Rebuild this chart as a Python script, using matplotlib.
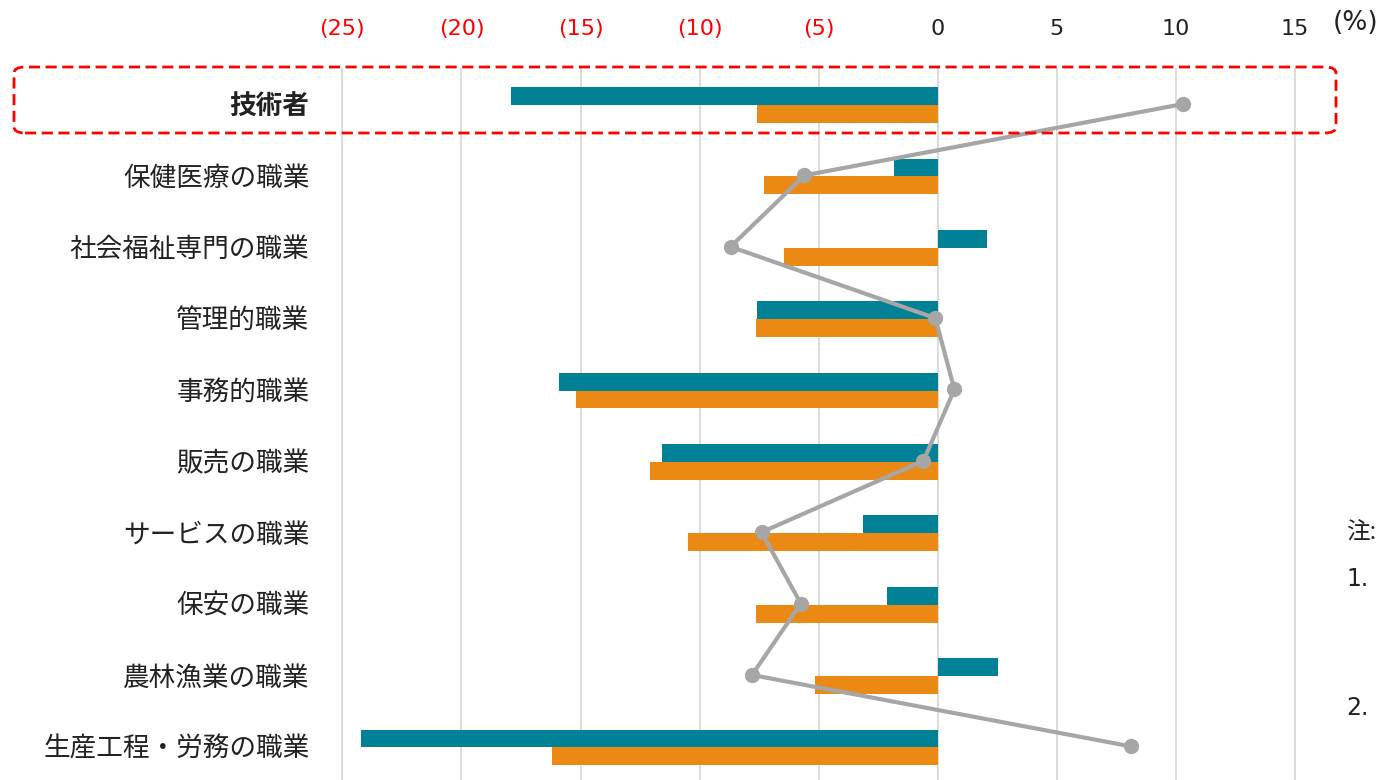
import matplotlib.pyplot as plt
from matplotlib.patches import FancyBboxPatch
from matplotlib.ticker import FuncFormatter
import numpy as np

# data (percent)
occupations = ['技術者', '保健医療の職業', '社会福祉専門の職業', '管理的職業', '事務的職業',
               '販売の職業', 'サービスの職業', '保安の職業', '農林漁業の職業', '生産工程・労務の職業']
teal_vals = [-17.9, -1.85, 2.05, -7.6, -15.9, -11.6, -3.15, -2.15, 2.55, -24.2]
orange_vals = [-7.6, -7.3, -6.45, -7.65, -15.2, -12.1, -10.5, -7.65, -5.15, -16.2]
line_vals = [10.3, -5.6, -8.7, -0.1, 0.7, -0.6, -7.4, -5.75, -7.8, 8.1]
x_ticks = [-25, -20, -15, -10, -5, 0, 5, 10, 15]

TEAL = '#008196'
ORANGE = '#EA8A15'
GRAY = '#A6A6A6'
CJK = ['Noto Sans CJK JP', 'DejaVu Sans']

fig = plt.figure(figsize=(13.84, 7.8), dpi=100)
ax = fig.add_axes([0.2457, -0.0026, 0.7037, 0.915])

y = np.arange(len(occupations))
bh = 0.25
ax.barh(y - bh / 2 + 0.015, teal_vals, height=bh, color=TEAL, zorder=2)
ax.barh(y + bh / 2 + 0.015, orange_vals, height=bh, color=ORANGE, zorder=2)
ax.plot(line_vals, y, color=GRAY, lw=3, marker='o', ms=10, zorder=3, clip_on=False)

ax.set_xlim(-25.1, 15.8)
ax.set_ylim(9.5, -0.5)
ax.set_xticks(x_ticks)
ax.xaxis.set_major_formatter(FuncFormatter(lambda v, p: f'({abs(int(v))})' if v < 0 else f'{int(v)}'))
ax.xaxis.tick_top()
ax.tick_params(axis='x', length=0, pad=21, labelsize=16)
for lbl, v in zip(ax.get_xticklabels(), x_ticks):
    lbl.set_color('red' if v < 0 else '#222222')
    lbl.set_fontfamily('DejaVu Sans')

ax.set_yticks(y)
ax.set_yticklabels(occupations)
ax.tick_params(axis='y', length=0, pad=22)
for i, lbl in enumerate(ax.get_yticklabels()):
    lbl.set_fontfamily(CJK)
    lbl.set_fontsize(19.2)
    lbl.set_color('#222222')
    if i == 0:
        lbl.set_fontweight('bold')

ax.grid(axis='x', color='#D9D9D9', lw=1.3, zorder=0)
ax.set_axisbelow(True)
for s in ax.spines.values():
    s.set_visible(False)

# "(%)" unit label
fig.text(1356 / 1384, 1 - 23 / 780, '(%)', fontsize=19, ha='center', va='center',
         family='DejaVu Sans', color='#222222')

# notes cut at the right edge
fig.text(1346 / 1384, 1 - 533 / 780, '注:', fontsize=17, ha='left', va='center', family=CJK, color='#222222')
fig.text(1346 / 1384, 1 - 579 / 780, '1.', fontsize=17, ha='left', va='center', family='DejaVu Sans', color='#222222')
fig.text(1346 / 1384, 1 - 708 / 780, '2.', fontsize=17, ha='left', va='center', family='DejaVu Sans', color='#222222')

# dashed highlight box around the first row
box = FancyBboxPatch((14 / 1384, 1 - 133 / 780), (1336 - 14) / 1384, (133 - 67) / 780,
                     boxstyle='round,pad=0,rounding_size=0.008', transform=fig.transFigure,
                     fill=False, edgecolor='red', lw=2, ls=(0, (4, 2)), zorder=5)
fig.patches.append(box)

fig.savefig('out.png', dpi=100)
